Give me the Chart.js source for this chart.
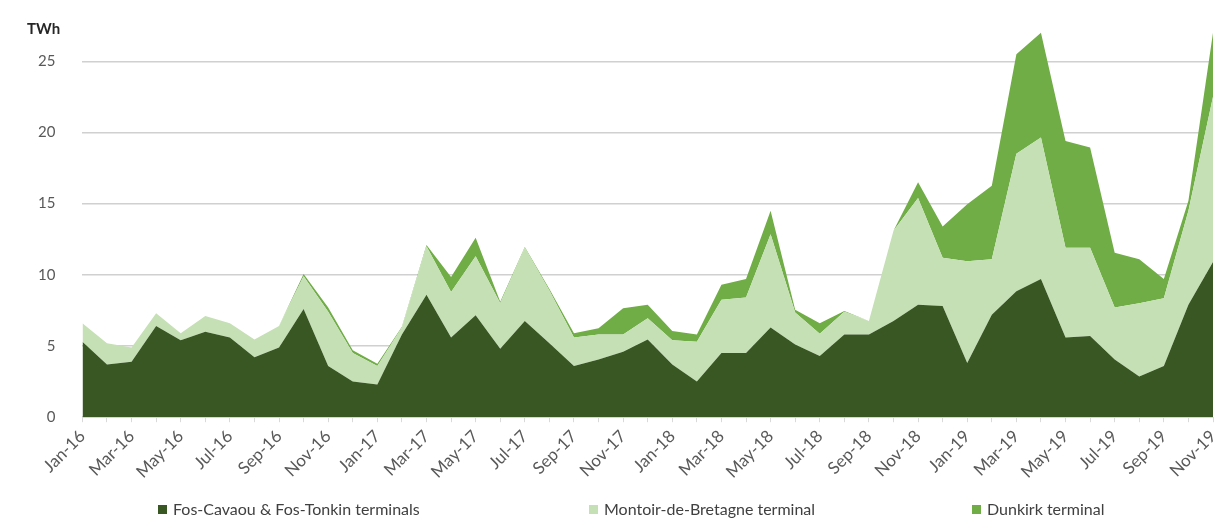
<!DOCTYPE html>
<html>
<head>
<meta charset="utf-8">
<script src="https://cdn.jsdelivr.net/npm/chart.js@4.4.1/dist/chart.umd.min.js"></script>
<style>
html,body{margin:0;padding:0;background:#fff;}
#wrap{position:relative;width:1218px;height:518px;overflow:hidden;font-family:Lato,'Liberation Sans',sans-serif;}
#c{position:absolute;left:0;top:0;}
#unit{position:absolute;left:27px;top:19px;font-weight:bold;font-size:15px;color:#262626;}
.lg{position:absolute;top:500px;font-size:16px;color:#404040;line-height:18px;white-space:nowrap;}
.lg span{display:inline-block;width:9px;height:9px;margin-right:6px;vertical-align:1px;}
</style>
</head>
<body>
<div id="wrap">
<canvas id="c" width="1218" height="518"></canvas>
<div id="unit">TWh</div>
</div>
<script>
const months = ['Jan-16','Feb-16','Mar-16','Apr-16','May-16','Jun-16','Jul-16','Aug-16','Sep-16','Oct-16','Nov-16','Dec-16',
 'Jan-17','Feb-17','Mar-17','Apr-17','May-17','Jun-17','Jul-17','Aug-17','Sep-17','Oct-17','Nov-17','Dec-17',
 'Jan-18','Feb-18','Mar-18','Apr-18','May-18','Jun-18','Jul-18','Aug-18','Sep-18','Oct-18','Nov-18','Dec-18',
 'Jan-19','Feb-19','Mar-19','Apr-19','May-19','Jun-19','Jul-19','Aug-19','Sep-19','Oct-19','Nov-19'];
const fos = [5.3,3.7,3.9,6.4,5.4,6.0,5.6,4.2,4.9,7.6,3.6,2.5,
 2.3,5.8,8.6,5.6,7.15,4.8,6.75,5.2,3.6,4.05,4.6,5.45,
 3.7,2.5,4.5,4.5,6.3,5.1,4.3,5.8,5.8,6.75,7.9,7.8,
 3.8,7.2,8.85,9.7,5.6,5.7,4.05,2.85,3.6,7.9,10.9];
const montoir = [1.3,1.5,1.0,0.9,0.5,1.1,1.0,1.25,1.5,2.3,3.8,2.0,
 1.3,0.5,3.4,3.2,4.15,3.2,5.15,3.7,2.0,1.75,1.2,1.5,
 1.7,2.8,3.75,3.9,6.55,2.25,1.55,1.6,0.95,6.35,7.5,3.4,
 7.15,3.9,9.65,9.95,6.3,6.2,3.65,5.15,4.75,6.6,11.6];
const dunkirk = [0,0,0,0,0,0,0,0,0,0.15,0.3,0.2,
 0.15,0.05,0.1,1.05,1.3,0.1,0.05,0.1,0.3,0.45,1.85,0.95,
 0.65,0.5,1.05,1.3,1.65,0.2,0.75,0.05,0,0,1.1,2.2,
 4.0,5.15,7.0,7.35,7.5,7.05,3.85,3.1,1.35,0.7,4.5];
const seriesNames = ['Fos-Cavaou & Fos-Tonkin terminals','Montoir-de-Bretagne terminal','Dunkirk terminal'];
const seriesColors = ['#385723','#C5E0B4','#70AD47'];
const yTicks = [0,5,10,15,20,25];
const legendX = [158,589,972];

const FONT = "Lato, 'Liberation Sans', sans-serif";
const wrap = document.getElementById('wrap');
seriesNames.forEach((n,i)=>{
  const d = document.createElement('div');
  d.className='lg'; d.style.left = legendX[i]+'px';
  const s = document.createElement('span'); s.style.background = seriesColors[i];
  d.appendChild(s); d.appendChild(document.createTextNode(n));
  wrap.appendChild(d);
});

const seriesData = [fos, montoir, dunkirk];
new Chart(document.getElementById('c'), {
  type:'line',
  data:{
    labels: months,
    datasets: seriesData.map((arr,i)=>({
      label: seriesNames[i], data: arr,
      backgroundColor: seriesColors[i], borderColor: seriesColors[i],
      borderWidth: 0, fill: i===0 ? 'origin' : '-1', pointRadius: 0, tension: 0
    }))
  },
  options:{
    responsive:false, animation:false,
    layout:{padding:{left:36,right:5,top:10,bottom:32}},
    plugins:{legend:{display:false}, tooltip:{enabled:false}, title:{display:false}},
    scales:{
      x:{
        offset:false,
        afterFit: s => { s.paddingLeft = 0; s.paddingRight = 0; },
        grid:{display:true, drawOnChartArea:false, drawTicks:true, tickLength:5, color:'#d9d9d9'},
        border:{display:true, color:'#d9d9d9'},
        ticks:{autoSkip:false, minRotation:45, maxRotation:45, color:'#595959', padding:4,
          font:{family:FONT, size:17},
          callback:(v,i)=> i%2===0 ? months[i] : ''}
      },
      y:{
        stacked:true, min:0, max:28.6,
        afterBuildTicks: s => { s.ticks = yTicks.map(v=>({value:v})); },
        afterFit: s => { s.paddingTop = 0; s.paddingBottom = 0; },
        grid:{color:'#d0d0d0', lineWidth:1.5, drawTicks:true, tickLength:25, tickColor:'rgba(0,0,0,0)'},
        border:{display:false},
        ticks:{color:'#595959', padding:2, font:{family:FONT, size:15}}
      }
    }
  }
});
</script>
</body>
</html>
